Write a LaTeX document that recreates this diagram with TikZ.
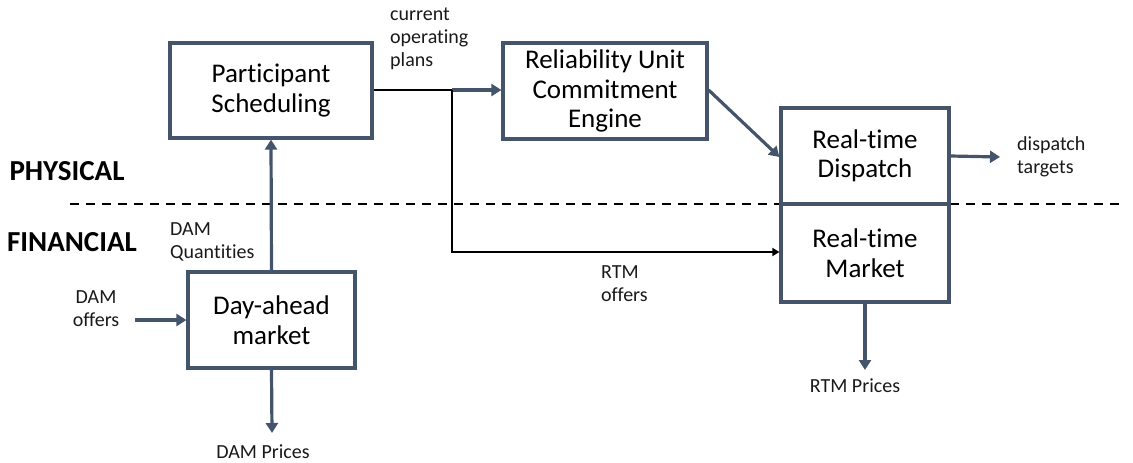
\documentclass[tikz,border=0pt]{standalone}
\usepackage{fontspec}
\setmainfont{Carlito}[Ligatures={NoCommon}]
\usetikzlibrary{arrows.meta}
\definecolor{boxc}{HTML}{44546A}
\tikzset{
  blk/.style={draw=boxc, line width=3.2pt, fill=white, align=center, inner sep=0pt,
    font=\fontsize{27}{29.5}\selectfont},
  lbl/.style={font=\fontsize{20}{23}\selectfont, inner sep=0pt, text=black!90},
  side/.style={font=\fontsize{29}{32}\selectfont\bfseries, inner sep=0pt},
  flow/.style={draw=boxc, line width=3.2pt, -{Triangle[length=10pt,width=12pt]}},
  bflow/.style={draw=black, line width=1.7pt, -{Triangle[length=7pt,width=8pt]}},
  sep/.style={draw=black, line width=1.8pt, dash pattern=on 9pt off 7pt}
}
\begin{document}
\begin{tikzpicture}[x=1pt,y=-1pt]
\useasboundingbox (0,0) rectangle (1133,463);
% separator
\coordinate (sepL) at (70,204);
\coordinate (sepR) at (1122,204);
\draw[sep] (sepL) -- (sepR);
% boxes
\node[blk, minimum width=202pt, minimum height=95pt] (ps) at (271,90.5) {Participant\\Scheduling};
\node[blk, minimum width=204pt, minimum height=96pt] (ruce) at (605,91) {Reliability Unit\\Commitment\\Engine};
\node[blk, minimum width=168pt, minimum height=96pt] (rtd) at (865,156) {Real-time\\Dispatch};
\node[blk, minimum width=168pt, minimum height=98pt] (rtm) at (865,253) {Real-time\\Market};
\node[blk, minimum width=167pt, minimum height=96pt] (dam) at (271.5,320) {Day-ahead\\market};
% side labels
\node[side] (phys) at (67,171) {PHYSICAL};
\node[side] (fin) at (72,242) {FINANCIAL};
% small labels
\node[lbl, align=left, anchor=west] (cop) at (390,39) {current\\operating\\plans};
\node[lbl, align=left, anchor=west] (damq) at (170,242) {DAM\\Quantities};
\node[lbl, align=center] (damo) at (96,309) {DAM\\offers};
\node[lbl] (damp) at (263,452) {DAM Prices};
\node[lbl, align=left, anchor=west] (rtmo) at (601,284) {RTM\\offers};
\node[lbl] (rtmp) at (855,386) {RTM Prices};
\node[lbl, align=left, anchor=west] (dt) at (1017,157) {dispatch\\targets};
% coordinates
\coordinate (j) at (452,90);
\coordinate (jd) at (452,252);
\coordinate (damoS) at (135,320);
\coordinate (dampE) at (272,433);
\coordinate (rtmpE) at (865,370);
\coordinate (dtE) at (1000,157);
% connectors
\draw[flow] (dam.north) -- (ps.south);
\draw[flow] (damoS) -- (dam.west);
\draw[flow] (dam.south) -- (dampE);
\draw[draw=black, line width=2.4pt] (ps.east |- j) -- (j);
\draw[flow] (j) -- (ruce.west |- j);
\draw[bflow] (j) -- (jd) -- (rtm.west |- jd);
\draw[flow] (ruce.east |- j) -- ([yshift=-1pt]rtd.west);
\draw[flow] (rtd.east) -- (dtE);
\draw[flow] (rtm.south) -- (rtmpE);
\end{tikzpicture}
\end{document}
